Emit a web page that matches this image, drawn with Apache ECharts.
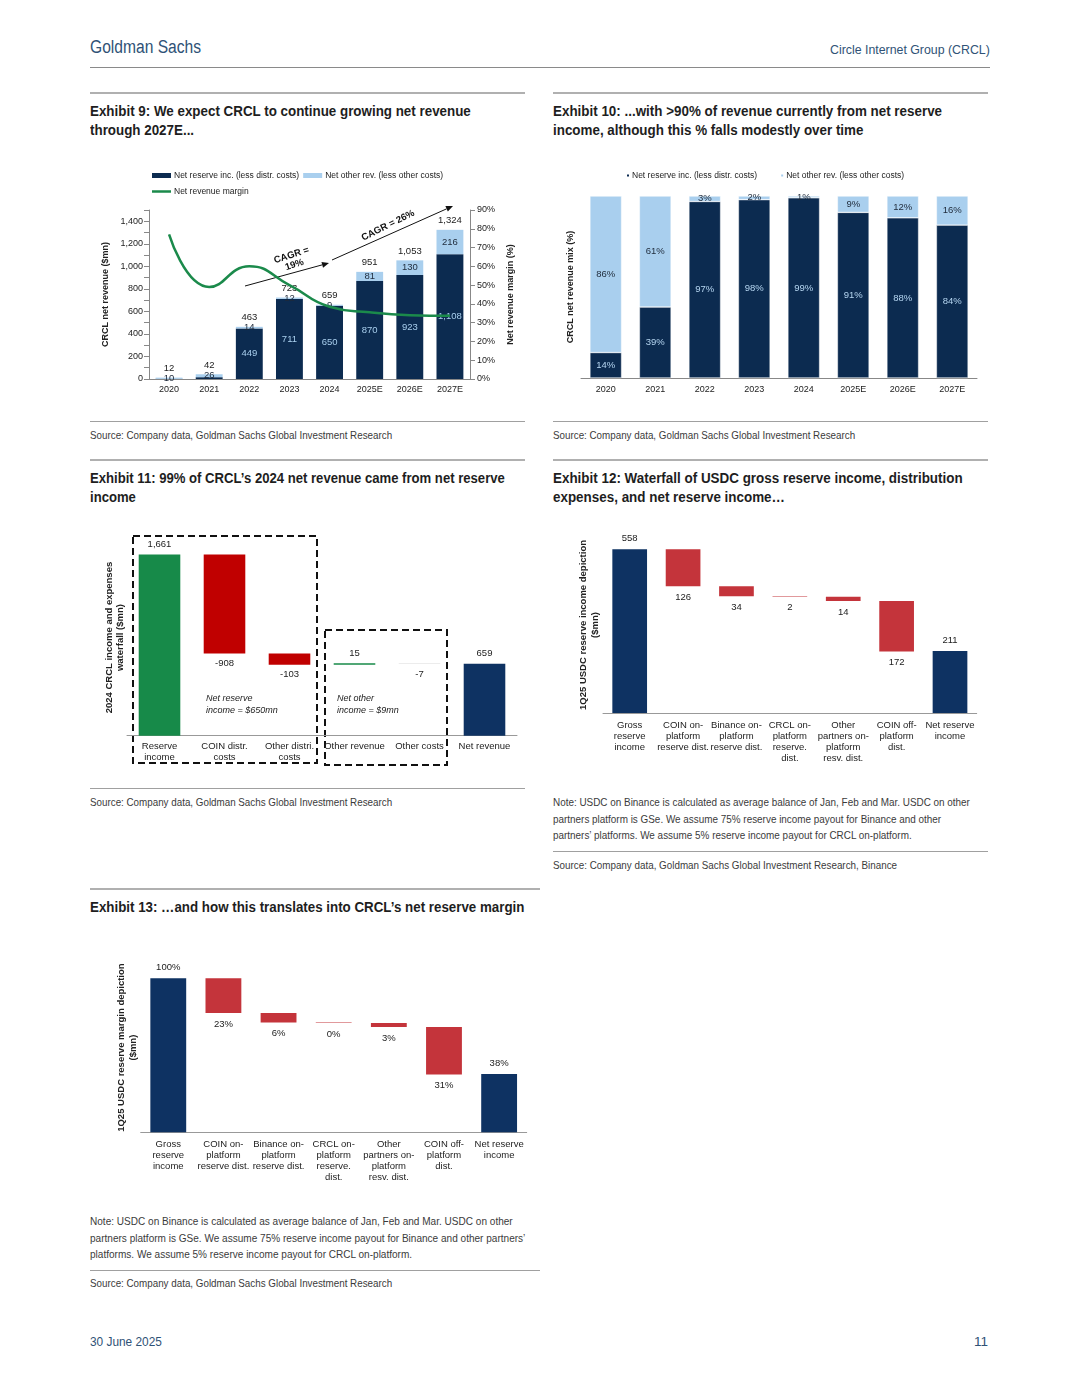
<!DOCTYPE html>
<html><head><meta charset="utf-8">
<script src="https://cdn.jsdelivr.net/npm/echarts@6/dist/echarts.min.js"></script>
<style>
body{margin:0;background:#fff;width:1080px;height:1397px;position:relative;font-family:"Liberation Sans",Arial,sans-serif;overflow:hidden}
.a{position:absolute;white-space:nowrap;transform-origin:left top}
.hr{position:absolute;height:0;border-top:1px solid #a0a0a0}
.hr2{position:absolute;height:0;border-top:2px solid #b0b0b0}
.t{position:absolute;font-weight:bold;font-size:14.5px;line-height:19px;color:#1e1e1e;white-space:nowrap;transform-origin:left top}
.s{position:absolute;font-size:11.5px;line-height:16.5px;color:#3b3b3b;white-space:nowrap;transform-origin:left top}
.c{position:absolute}
</style></head><body>
<div class="a" data-w="111" style="left:90px;top:37px;font-size:18px;color:#2f5276;">Goldman Sachs</div>
<div class="a" data-w="160" data-r="1" style="right:90px;top:42px;font-size:13.5px;color:#2f5276;">Circle Internet Group (CRCL)</div>
<div class="hr" style="left:90px;top:67px;width:900px;border-top-color:#8a8a8a"></div>

<div class="hr2" style="left:90px;top:92px;width:435px"></div>
<div class="t" data-w="381" style="left:90px;top:102px">Exhibit 9: We expect CRCL to continue growing net revenue<br>through 2027E...</div>
<div class="hr2" style="left:553px;top:92px;width:435px"></div>
<div class="t" data-w="389" style="left:553px;top:102px">Exhibit 10: ...with &gt;90% of revenue currently from net reserve<br>income, although this % falls modestly over time</div>
<div id="c9" class="c" style="left:90px;top:160px;width:440px;height:245px"></div>
<div id="c10" class="c" style="left:550px;top:160px;width:440px;height:245px"></div>
<div class="hr" style="left:90px;top:421px;width:435px"></div>
<div class="hr" style="left:553px;top:421px;width:435px"></div>
<div class="s" data-w="302" style="left:90px;top:427px">Source: Company data, Goldman Sachs Global Investment Research</div>
<div class="s" data-w="302" style="left:553px;top:427px">Source: Company data, Goldman Sachs Global Investment Research</div>

<div class="hr2" style="left:90px;top:459px;width:435px"></div>
<div class="t" data-w="415" style="left:90px;top:469px">Exhibit 11: 99% of CRCL’s 2024 net revenue came from net reserve<br>income</div>
<div class="hr2" style="left:553px;top:459px;width:435px"></div>
<div class="t" data-w="410" style="left:553px;top:469px">Exhibit 12: Waterfall of USDC gross reserve income, distribution<br>expenses, and net reserve income…</div>
<div id="c11" class="c" style="left:90px;top:525px;width:440px;height:250px"></div>
<div id="c12" class="c" style="left:550px;top:525px;width:440px;height:250px"></div>
<div class="hr" style="left:90px;top:788px;width:435px"></div>
<div class="s" data-w="302" style="left:90px;top:794px">Source: Company data, Goldman Sachs Global Investment Research</div>
<div class="s" data-w="417" style="left:553px;top:794px">Note: USDC on Binance is calculated as average balance of Jan, Feb and Mar. USDC on other<br>partners platform is GSe. We assume 75% reserve income payout for Binance and other<br>partners’ platforms. We assume 5% reserve income payout for CRCL on-platform.</div>
<div class="hr" style="left:553px;top:851px;width:435px"></div>
<div class="s" data-w="344" style="left:553px;top:857px">Source: Company data, Goldman Sachs Global Investment Research, Binance</div>

<div class="hr2" style="left:90px;top:888px;width:450px"></div>
<div class="t" data-w="434" style="left:90px;top:898px">Exhibit 13: …and how this translates into CRCL’s net reserve margin</div>
<div id="c13" class="c" style="left:90px;top:940px;width:450px;height:250px"></div>
<div class="s" data-w="435" style="left:90px;top:1213px">Note: USDC on Binance is calculated as average balance of Jan, Feb and Mar. USDC on other<br>partners platform is GSe. We assume 75% reserve income payout for Binance and other partners’<br>platforms. We assume 5% reserve income payout for CRCL on-platform.</div>
<div class="hr" style="left:90px;top:1270px;width:450px"></div>
<div class="s" data-w="302" style="left:90px;top:1275px">Source: Company data, Goldman Sachs Global Investment Research</div>

<div class="a" data-w="72" style="left:90px;top:1334px;font-size:13.5px;color:#2f5276;">30 June 2025</div>
<div class="a" data-r="1" style="right:92px;top:1334px;font-size:13.5px;color:#2f5276;">11</div>

<script>
// fit condensed text widths
document.querySelectorAll('[data-w]').forEach(el=>{
  const s = parseFloat(el.dataset.w) / el.offsetWidth;
  if (el.dataset.r) el.style.transformOrigin = 'right top';
  el.style.transform = 'scaleX(' + s + ')';
});

// ---------- DATA ----------
const years = ['2020','2021','2022','2023','2024','2025E','2026E','2027E'];
const netReserve = [2, 16, 449, 711, 650, 870, 923, 1108];
const netOther = [10, 26, 14, 12, 9, 81, 130, 216];
const netTotal = [12, 42, 463, 723, 659, 951, 1053, 1324];
const netMargin = [77, 49, 60, 50, 38.5, 35.5, 34, 33.7];

const mixReserve = [14, 39, 97, 98, 99, 91, 88, 84];
const mixOther = [86, 61, 3, 2, 1, 9, 12, 16];

const wf11Cats = ['Reserve\nincome','COIN distr.\ncosts','Other distri.\ncosts','Other revenue','Other costs','Net revenue'];
const wf11Values = [1661, -908, -103, 15, -7, 659];
const wf11IsTotal = [true, false, false, false, false, true];

const wfCats = ['Gross\nreserve\nincome','COIN on-\nplatform\nreserve dist.','Binance on-\nplatform\nreserve dist.','CRCL on-\nplatform\nreserve.\ndist.','Other\npartners on-\nplatform\nresv. dist.','COIN off-\nplatform\ndist.','Net reserve\nincome'];
const wf12Values = [558, -126, -34, -2, -14, -172, 211];
const wf13Values = [100, -22.6, -6.1, -0.4, -2.5, -30.8, 37.8];
const wfIsTotal = [true, false, false, false, false, false, true];

// ---------- STYLES ----------
const NAVY = '#0c2b50', LBLUE = '#a9cfee', GREEN = '#1b8a4b';
const wf11Colors = ['#178a49','#c00000','#c00000','#178a49','#e6e6e6','#0e3262'];
const wfColors = ['#0e3262','#c4343b','#c4343b','#c4343b','#c4343b','#c4343b','#0e3262'];
const FONT = 'Liberation Sans, Arial, sans-serif';
const fmt = v => v.toLocaleString('en-US');

function waterfall(values, isTotal){
  let run = 0; const base = [], height = [];
  values.forEach((v,i)=>{
    if(isTotal[i]){ base.push(0); height.push(v); run = v; }
    else if(v >= 0){ base.push(run); height.push(v); run += v; }
    else { run += v; base.push(run); height.push(-v); }
  });
  return {base, height};
}

// ---------- EXHIBIT 9 ----------
(function(){
  const ch = echarts.init(document.getElementById('c9'));
  function arrow(x1,y1,x2,y2){
    const a = Math.atan2(y2-y1, x2-x1), L = 7, W = 3;
    const bx = x2 - L*Math.cos(a), by = y2 - L*Math.sin(a);
    return [
      {type:'line', shape:{x1, y1, x2:bx, y2:by}, style:{stroke:'#111', lineWidth:1}},
      {type:'polygon', shape:{points:[[x2,y2],[bx - W*Math.sin(a), by + W*Math.cos(a)],[bx + W*Math.sin(a), by - W*Math.cos(a)]]}, style:{fill:'#111'}}
    ];
  }
  ch.setOption({
    animation:false,
    textStyle:{fontFamily:FONT},
    legend:[
      {data:['Net reserve inc. (less distr. costs)','Net other rev. (less other costs)'], left:57, top:6, icon:'rect', itemWidth:19, itemHeight:5, itemGap:4, textStyle:{fontSize:8.5, color:'#222', padding:[0,0,0,-2]}},
      {data:[{name:'Net revenue margin', icon:'rect'}], left:57, top:22, itemWidth:19, itemHeight:2.5, textStyle:{fontSize:8.5, color:'#222', padding:[0,0,0,-2]}}
    ],
    grid:{left:59, right:60, top:50, bottom:26},
    xAxis:{type:'category', data:years, axisLine:{lineStyle:{color:'#888'}}, axisTick:{lineStyle:{color:'#888'}}, axisLabel:{color:'#222', fontSize:9, margin:6}},
    yAxis:[
      {type:'value', min:0, max:1500, interval:100, name:'CRCL net revenue ($mn)', nameLocation:'middle', nameGap:35,
       nameTextStyle:{fontWeight:'bold', fontSize:9, color:'#222'},
       axisLine:{show:true, lineStyle:{color:'#888'}}, axisTick:{show:true, lineStyle:{color:'#888'}, interval: (i,v)=> v%200===0 && v<=1400},
       splitLine:{show:false},
       axisLabel:{fontSize:9, color:'#222', margin:6, formatter: v => (v%200===0 && v<=1400) ? fmt(v) : ''}},
      {type:'value', min:0, max:90, interval:10, position:'right', name:'Net revenue margin (%)', nameLocation:'middle', nameGap:35,
       nameTextStyle:{fontWeight:'bold', fontSize:9, color:'#222'},
       axisLine:{show:true, lineStyle:{color:'#888'}}, axisTick:{show:true, lineStyle:{color:'#888'}},
       splitLine:{show:false}, axisLabel:{fontSize:9, color:'#222', margin:7, formatter:'{value}%'}}
    ],
    series:[
      {name:'Net reserve inc. (less distr. costs)', type:'bar', stack:'a', data:netReserve, barWidth:'67%',
       itemStyle:{color:NAVY},
       label:{show:true, position:'inside', color:'#a9cfee', fontSize:9.5, formatter:p => p.value > 100 ? fmt(p.value) : ''}},
      {name:'Net other rev. (less other costs)', type:'bar', stack:'a', data:netOther,
       itemStyle:{color:LBLUE},
       label:{show:true, position:'inside', color:'#1e2a3a', fontSize:9.5, formatter:p => fmt(p.value)}},
      {name:'total', type:'bar', stack:'a', data:netTotal.map(()=>0), itemStyle:{color:'transparent'},
       label:{show:true, position:'top', distance:4, color:'#222', fontSize:9.5, formatter:p => fmt(netTotal[p.dataIndex])}},
      {name:'Net revenue margin', type:'line', yAxisIndex:1, smooth:0.5, data:netMargin, symbol:'none',
       lineStyle:{color:GREEN, width:2.5}, itemStyle:{color:GREEN}, z:5}
    ],
    graphic:[
      ...arrow(155,126,239,103),
      ...arrow(242,100,363,46),
      {type:'text', x:203, y:100, rotation:0.307, style:{text:'CAGR =\n19%', font:'bold 9.5px '+FONT, fill:'#111', align:'center', verticalAlign:'middle', lineHeight:10}},
      {type:'text', x:298, y:65.5, rotation:0.46, style:{text:'CAGR = 26%', font:'bold 9.5px '+FONT, fill:'#111', align:'center', verticalAlign:'middle'}}
    ]
  });
})();

// ---------- EXHIBIT 10 ----------
(function(){
  const ch = echarts.init(document.getElementById('c10'));
  ch.setOption({
    animation:false,
    textStyle:{fontFamily:FONT},
    legend:{data:['Net reserve inc. (less distr. costs)','Net other rev. (less other costs)'], left:70, top:6, icon:'rect', itemWidth:4, itemHeight:4, itemGap:22, textStyle:{fontSize:8.5, color:'#222', padding:[0,0,0,-3]}},
    grid:{left:31, right:13, top:36, bottom:27},
    xAxis:{type:'category', data:years, axisLine:{lineStyle:{color:'#888'}}, axisTick:{lineStyle:{color:'#888'}}, axisLabel:{color:'#222', fontSize:9, margin:7}},
    yAxis:{type:'value', min:0, max:100, name:'CRCL net revenue mix (%)', nameLocation:'middle', nameGap:6,
      nameTextStyle:{fontWeight:'bold', fontSize:9, color:'#222'},
      axisLine:{show:false}, axisTick:{show:false}, axisLabel:{show:false}, splitLine:{show:false}},
    series:[
      {name:'Net reserve inc. (less distr. costs)', type:'bar', stack:'m', data:mixReserve, barWidth:'64%',
       itemStyle:{color:NAVY, borderColor:'#fff', borderWidth:0.5},
       label:{show:true, position:'inside', color:'#b5d5f0', fontSize:9.5, formatter:'{c}%'}},
      {name:'Net other rev. (less other costs)', type:'bar', stack:'m', data:mixOther,
       itemStyle:{color:LBLUE, borderColor:'#fff', borderWidth:0.5},
       label:{show:true, position:'inside', color:'#1e2a3a', fontSize:9.5, formatter:'{c}%'}}
    ]
  });
})();

// ---------- EXHIBIT 11 ----------
(function(){
  const ch = echarts.init(document.getElementById('c11'));
  const w = waterfall(wf11Values, wf11IsTotal);
  ch.setOption({
    animation:false,
    textStyle:{fontFamily:FONT},
    grid:{left:37, right:13, top:14.4, bottom:39.3},
    xAxis:{type:'category', data:wf11Cats, axisLine:{lineStyle:{color:'#999'}}, axisTick:{lineStyle:{color:'#999'}},
      axisLabel:{interval:0, color:'#222', fontSize:9.5, lineHeight:11, margin:5}},
    yAxis:{type:'value', min:0, max:1800, name:'2024 CRCL income and expenses\nwaterfall ($mn)', nameLocation:'middle', nameGap:1,
      nameTextStyle:{fontWeight:'bold', fontSize:9.5, lineHeight:11, color:'#222'},
      axisLine:{show:false}, axisTick:{show:false}, axisLabel:{show:false}, splitLine:{show:false}},
    series:[
      {type:'bar', stack:'w', data:w.base, itemStyle:{color:'transparent'}, barWidth:'64%', silent:true},
      {type:'bar', stack:'w',
       data:w.height.map((h,i)=>({value:h, itemStyle:{color:wf11Colors[i]},
         label:{position: wf11Values[i] >= 0 ? 'top' : 'bottom'}})),
       label:{show:true, color:'#222', fontSize:9.5, distance:5, formatter:p => fmt(wf11Values[p.dataIndex])}}
    ],
    graphic:[
      {type:'rect', shape:{x:43, y:11, width:184, height:227}, style:{fill:'none', stroke:'#111', lineWidth:2, lineDash:[7,4]}},
      {type:'rect', shape:{x:235, y:105, width:122, height:135}, style:{fill:'none', stroke:'#111', lineWidth:2, lineDash:[7,4]}},
      {type:'text', x:116, y:167, style:{text:'Net reserve\nincome = $650mn', font:'italic 9px '+FONT, fill:'#222', lineHeight:12}},
      {type:'text', x:247, y:167, style:{text:'Net other\nincome = $9mn', font:'italic 9px '+FONT, fill:'#222', lineHeight:12}}
    ]
  });
})();

// ---------- EXHIBIT 12 & 13 ----------
function wfChart(id, values, grid, max, yName, labelFmt){
  const ch = echarts.init(document.getElementById(id));
  const w = waterfall(values, wfIsTotal);
  ch.setOption({
    animation:false,
    textStyle:{fontFamily:FONT},
    grid:grid,
    xAxis:{type:'category', data:wfCats, axisLine:{lineStyle:{color:'#999'}}, axisTick:{lineStyle:{color:'#999'}},
      axisLabel:{interval:0, color:'#222', fontSize:9.5, lineHeight:11, margin:7}},
    yAxis:{type:'value', min:0, max:max, name:yName, nameLocation:'middle', nameGap:2,
      nameTextStyle:{fontWeight:'bold', fontSize:9.5, lineHeight:11.5, color:'#222'},
      axisLine:{show:false}, axisTick:{show:false}, axisLabel:{show:false}, splitLine:{show:false}},
    series:[
      {type:'bar', stack:'w', data:w.base, itemStyle:{color:'transparent'}, barWidth:'65%', silent:true},
      {type:'bar', stack:'w',
       data:w.height.map((h,i)=>({value:h, itemStyle:{color:wfColors[i]},
         label:{position: wfIsTotal[i] ? 'top' : 'bottom'}})),
       label:{show:true, color:'#222', fontSize:9.5, distance:6, formatter:p => labelFmt(values[p.dataIndex])}}
    ]
  });
}
wfChart('c12', wf12Values, {left:53, right:13.3, top:12, bottom:62}, 600,
  '1Q25 USDC reserve income depiction\n($mn)', v => fmt(Math.abs(v)));
wfChart('c13', wf13Values, {left:50.7, right:13.3, top:22.9, bottom:57.7}, 110,
  '1Q25 USDC reserve margin depiction\n($mn)', v => Math.round(Math.abs(v)) + '%');
</script>
</body></html>
